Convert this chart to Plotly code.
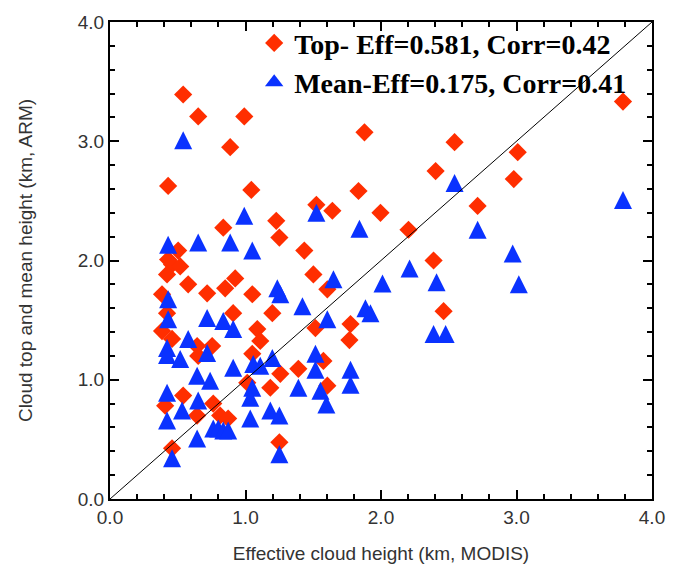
import plotly.graph_objects as go

# Top (red diamonds): MODIS effective height vs ARM cloud-top height
top_x = [0.540, 0.651, 0.991, 0.887, 0.429, 1.043, 1.878, 2.543, 3.009, 3.786,
         2.403, 2.980, 2.713, 1.834, 1.641, 1.523, 1.996, 1.227, 1.250, 0.836,
         1.434, 0.503, 0.429, 0.458, 0.518, 0.421, 0.577, 0.717, 0.850, 0.924,
         1.050, 1.501, 1.604, 2.203, 2.388, 0.384, 0.421, 0.909, 1.198, 1.087,
         1.109, 0.384, 0.458, 0.643, 0.754, 0.651, 1.050, 1.516, 1.775, 1.767,
         1.575, 1.390, 1.257, 1.183, 1.013, 0.540, 0.407, 0.762, 0.643, 0.813,
         0.872, 1.604, 1.250, 0.458, 2.462]
top_y = [3.392, 3.208, 3.208, 2.950, 2.625, 2.592, 3.075, 2.992, 2.908, 3.333,
         2.750, 2.683, 2.458, 2.583, 2.417, 2.467, 2.400, 2.333, 2.192, 2.275,
         2.083, 2.083, 2.008, 1.967, 1.950, 1.883, 1.800, 1.725, 1.767, 1.850,
         1.717, 1.883, 1.758, 2.258, 2.000, 1.717, 1.558, 1.558, 1.558, 1.425,
         1.325, 1.408, 1.342, 1.283, 1.283, 1.200, 1.217, 1.433, 1.467, 1.333,
         1.158, 1.092, 1.050, 0.933, 0.975, 0.867, 0.783, 0.800, 0.700, 0.700,
         0.675, 0.950, 0.475, 0.425, 1.575]

# Mean (blue triangles): MODIS effective height vs ARM cloud mean height
mean_x = [0.540, 0.991, 1.523, 1.841, 0.429, 0.651, 0.887, 1.050, 2.543, 3.786,
          2.713, 2.972, 3.017, 2.211, 2.011, 2.410, 1.649, 1.235, 1.257, 0.429,
          0.429, 0.717, 0.836, 0.909, 1.420, 1.885, 1.604, 0.577, 0.421, 0.421,
          0.518, 0.717, 0.909, 1.057, 1.109, 1.198, 1.516, 1.516, 1.775, 1.775,
          0.643, 0.739, 1.050, 1.390, 1.553, 1.597, 0.421, 0.651, 0.532, 1.035,
          1.035, 1.183, 1.250, 0.421, 0.762, 0.799, 0.836, 0.872, 0.643, 1.250,
          0.458, 2.388, 2.477, 1.922]
mean_y = [3.008, 2.375, 2.400, 2.267, 2.133, 2.150, 2.150, 2.083, 2.650, 2.508,
          2.258, 2.058, 1.800, 1.933, 1.808, 1.817, 1.842, 1.767, 1.717, 1.675,
          1.508, 1.517, 1.492, 1.425, 1.617, 1.600, 1.508, 1.342, 1.267, 1.208,
          1.175, 1.225, 1.100, 1.133, 1.117, 1.183, 1.217, 1.083, 1.083, 0.958,
          1.033, 0.992, 0.933, 0.933, 0.908, 0.792, 0.892, 0.825, 0.742, 0.850,
          0.675, 0.742, 0.700, 0.658, 0.592, 0.592, 0.575, 0.575, 0.508, 0.375,
          0.342, 1.383, 1.383, 1.558]

top_label = "Top- Eff=0.581, Corr=0.42"
mean_label = "Mean-Eff=0.175, Corr=0.41"
diag = [0.0, 4.0]

RED = "#FF2E00"
BLUE = "#0A32FF"
TRI = 18
FONT = "Liberation Sans"
GREY = "#333333"

fig = go.Figure()
fig.add_trace(go.Scatter(
    x=top_x, y=top_y, mode="markers", name=top_label, legendgroup="a",
    marker=dict(symbol="diamond", size=14, color=RED, line=dict(width=0)),
))
fig.add_trace(go.Scatter(
    x=mean_x, y=mean_y, mode="markers", name=mean_label, legendgroup="b",
    showlegend=False,
    marker=dict(symbol="arrow-down", angle=180, standoff=TRI / 2, size=TRI,
                color=BLUE, line=dict(width=0)),
))
# legend entry for the triangles (no visible marks of its own)
fig.add_trace(go.Scatter(
    x=[None], y=[None], mode="markers", name=mean_label, legendgroup="b",
    marker=dict(symbol="triangle-up", size=16, color=BLUE, line=dict(width=0)),
))
fig.add_trace(go.Scatter(
    x=diag, y=diag, mode="lines", showlegend=False,
    line=dict(color="black", width=1),
))

axis_common = dict(
    range=[0, 4], dtick=1, tickformat=".1f",
    showline=True, linecolor="black", linewidth=2, mirror="ticks",
    ticks="inside", ticklen=9, tickwidth=1.5, tickcolor="black",
    minor=dict(ticks="inside", ticklen=5, dtick=0.2, tickwidth=1.5,
               tickcolor="black", showgrid=False),
    showgrid=False, zeroline=False,
    tickfont=dict(family=FONT, size=19, color=GREY),
)

fig.update_layout(
    width=690, height=576,
    margin=dict(l=110, r=38, t=19, b=77),
    plot_bgcolor="white", paper_bgcolor="white",
    xaxis=dict(axis_common,
               title=dict(text="Effective cloud height (km, MODIS)", standoff=20,
                          font=dict(family=FONT, size=19, color=GREY))),
    yaxis=dict(axis_common,
               title=dict(text="Cloud top and mean height (km, ARM)", standoff=40,
                          font=dict(family=FONT, size=19, color=GREY))),
    legend=dict(
        x=0.266, y=1.008, xanchor="left", yanchor="top",
        bgcolor="rgba(0,0,0,0)", borderwidth=0,
        font=dict(family="Liberation Serif", size=28, color="black", weight="bold"),
        tracegroupgap=0, itemwidth=30,
    ),
    showlegend=True,
)

fig.write_html("out.html")
